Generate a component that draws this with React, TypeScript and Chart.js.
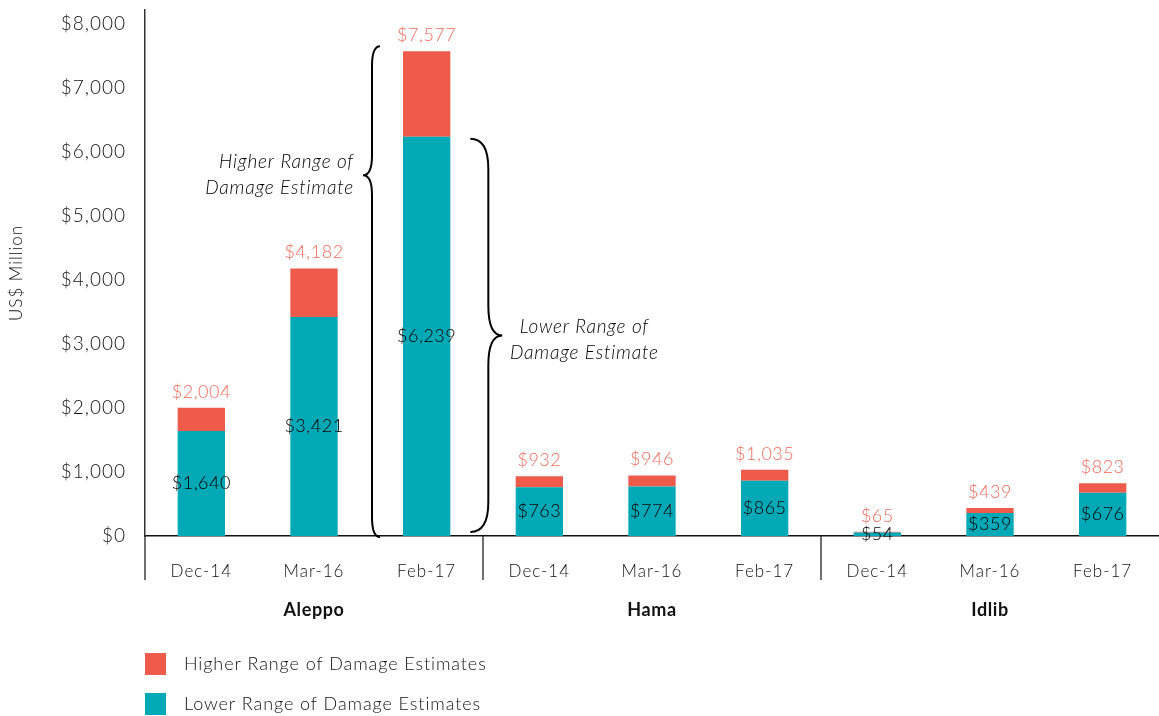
import React, { useEffect, useRef } from 'react';
import { Chart, registerables } from 'chart.js';
Chart.register(...registerables);

const categories = ['Dec-14', 'Mar-16', 'Feb-17', 'Dec-14', 'Mar-16', 'Feb-17', 'Dec-14', 'Mar-16', 'Feb-17'];
const groups = ['Aleppo', 'Hama', 'Idlib'];
const groupSizes = [3, 3, 3];
const lowerValues = [1640, 3421, 6239, 763, 774, 865, 54, 359, 676];
const totalValues = [2004, 4182, 7577, 932, 946, 1035, 65, 439, 823];
const higherValues = totalValues.map((t, i) => t - lowerValues[i]);
const yTickValues = [0, 1000, 2000, 3000, 4000, 5000, 6000, 7000, 8000];
const seriesNames = ['Lower Range of Damage Estimates', 'Higher Range of Damage Estimates'];
const annotationHigher = ['Higher Range of', 'Damage Estimate'];
const annotationLower = ['Lower Range of', 'Damage Estimate'];
const bracedIndex = 2;

const TEAL = '#00A9B5';
const RED = '#EE5B4B';
const RED_TEXT = '#F26A5A';
const FONT = 'Lato, "Open Sans", sans-serif';

const fmt = (v: number) => '$' + v.toLocaleString('en-US');

function brace(ctx: CanvasRenderingContext2D, x: number, y1: number, y2: number, ym: number, d: number, e: number, t: number, r: number) {
  // d = -1: "{" tip pointing left; d = +1: "}" tip pointing right
  ctx.beginPath();
  ctx.moveTo(x - d * e, y1);
  ctx.quadraticCurveTo(x, y1, x, y1 + r);
  ctx.lineTo(x, ym - r);
  ctx.quadraticCurveTo(x, ym, x + d * t, ym);
  ctx.quadraticCurveTo(x, ym, x, ym + r);
  ctx.lineTo(x, y2 - r);
  ctx.quadraticCurveTo(x, y2, x - d * e, y2);
  ctx.stroke();
}

const decorations = {
  id: 'decorations',
  beforeDraw(chart: any) {
    (chart.ctx as any).letterSpacing = '1px';
  },
  afterDatasetsDraw(chart: any) {
    const ctx: any = chart.ctx;
    const lowerMeta = chart.getDatasetMeta(0);
    const higherMeta = chart.getDatasetMeta(1);
    ctx.save();
    ctx.letterSpacing = '0.5px';
    ctx.textAlign = 'center';
    ctx.textBaseline = 'middle';
    lowerMeta.data.forEach((bar: any, i: number) => {
      ctx.font = `300 18px ${FONT}`;
      ctx.fillStyle = '#000';
      ctx.fillText(fmt(lowerValues[i]), bar.x, (bar.y + bar.base) / 2);
      const top = higherMeta.data[i];
      ctx.fillStyle = RED_TEXT;
      ctx.fillText(fmt(totalValues[i]), top.x, top.y - 16);
    });
    ctx.restore();
  },
  afterDraw(chart: any) {
    const ctx: any = chart.ctx;
    const xs = chart.scales.x;
    const ys = chart.scales.y;
    const area = chart.chartArea;
    const lowY = area.bottom + 44;
    ctx.save();
    ctx.strokeStyle = '#222';
    ctx.lineWidth = 1.3;
    // y axis extension and group separators
    ctx.beginPath();
    ctx.moveTo(area.left, area.bottom);
    ctx.lineTo(area.left, lowY);
    let idx = 0;
    groupSizes.forEach((n, g) => {
      idx += n;
      if (g < groupSizes.length - 1) {
        const sx = (xs.getPixelForValue(idx - 1) + xs.getPixelForValue(idx)) / 2;
        ctx.moveTo(sx, area.bottom);
        ctx.lineTo(sx, lowY);
      }
    });
    ctx.stroke();
    // group labels
    ctx.fillStyle = '#111';
    ctx.letterSpacing = '0.6px';
    ctx.font = `bold 18px ${FONT}`;
    ctx.textAlign = 'center';
    ctx.textBaseline = 'middle';
    let start = 0;
    groupSizes.forEach((n, g) => {
      const cx = (xs.getPixelForValue(start) + xs.getPixelForValue(start + n - 1)) / 2;
      ctx.fillText(groups[g], cx, area.bottom + 74);
      start += n;
    });
    // legend
    const legendItems = [
      { label: seriesNames[1], color: RED },
      { label: seriesNames[0], color: TEAL },
    ];
    ctx.font = `300 18px ${FONT}`;
    ctx.letterSpacing = '0.9px';
    ctx.textAlign = 'left';
    legendItems.forEach((it, k) => {
      const cy = area.bottom + 128 + k * 40;
      ctx.fillStyle = it.color;
      ctx.fillRect(area.left, cy - 11, 21, 22);
      ctx.fillStyle = '#111';
      ctx.fillText(it.label, area.left + 39, cy);
    });
    // braces
    const bars = chart.getDatasetMeta(1).data;
    const lowBars = chart.getDatasetMeta(0).data;
    const b = bars[bracedIndex];
    const lb = lowBars[bracedIndex];
    const half = b.width / 2;
    ctx.strokeStyle = '#000';
    ctx.lineWidth = 2;
    const lx = b.x - half - 31;
    const ly1 = b.y - 5, ly2 = ys.getPixelForValue(0) + 1;
    const lym = ly1 + (ly2 - ly1) * 0.263;
    brace(ctx, lx, ly1, ly2, lym, -1, 8, 9, 20);
    const rx = b.x + half + 38;
    const ry1 = lb.y + 2, ry2 = ys.getPixelForValue(0) - 4;
    const rym = ry1 + (ry2 - ry1) * 0.5;
    brace(ctx, rx, ry1, ry2, rym, 1, 18, 14, 30);
    // annotation text
    ctx.fillStyle = '#000';
    ctx.font = `italic 300 19px ${FONT}`;
    ctx.letterSpacing = '0.8px';
    ctx.textAlign = 'right';
    ctx.fillText(annotationHigher[0], lx - 18, lym - 13);
    ctx.fillText(annotationHigher[1], lx - 18, lym + 13);
    ctx.textAlign = 'center';
    ctx.fillText(annotationLower[0], rx + 96, rym - 9);
    ctx.fillText(annotationLower[1], rx + 96, rym + 17);
    ctx.restore();
  },
};

export default function App() {
  const ref = useRef<HTMLCanvasElement>(null);
  useEffect(() => {
    document.body.style.margin = '0';
    const chart = new Chart(ref.current!, {
      type: 'bar',
      data: {
        labels: categories,
        datasets: [
          {
            label: seriesNames[0],
            data: lowerValues,
            backgroundColor: TEAL,
            barPercentage: 0.42,
            categoryPercentage: 1,
          },
          {
            label: seriesNames[1],
            data: higherValues,
            backgroundColor: RED,
            barPercentage: 0.42,
            categoryPercentage: 1,
          },
        ],
      },
      options: {
        animation: false,
        responsive: false,
        maintainAspectRatio: false,
        layout: { padding: { top: 10, right: 0, left: 0, bottom: 0 } },
        plugins: { legend: { display: false }, tooltip: { enabled: false } },
        scales: {
          x: {
            stacked: true,
            grid: { display: false, drawTicks: false },
            border: { display: true, color: '#111', width: 1.5 },
            ticks: { color: '#111', font: { family: FONT, size: 17, weight: '300' }, padding: 25 },
            afterFit: (axis: any) => { axis.height = 180; axis.paddingLeft = 0; axis.paddingRight = 0; },
          },
          y: {
            stacked: true,
            min: 0,
            max: 8220,
            grid: { display: false, drawTicks: false },
            border: { display: true, color: '#333', width: 1.5 },
            afterBuildTicks: (axis: any) => {
              axis.ticks = yTickValues.map((v) => ({ value: v }));
            },
            ticks: {
              color: '#111',
              font: { family: FONT, size: 19, weight: '300' },
              padding: 19,
              callback: (v: any) => fmt(Number(v)),
            },
            title: {
              display: true,
              text: 'US$ Million',
              color: '#111',
              font: { family: FONT, size: 17, weight: '300' },
              padding: { top: 6, bottom: 4 },
            },
            afterFit: (axis: any) => { axis.width = 145; axis.paddingTop = 0; axis.paddingBottom = 0; },
          },
        },
      },
      plugins: [decorations],
    });
    return () => chart.destroy();
  }, []);
  return (
    <div style={{ width: 1159, height: 716 }}>
      <canvas ref={ref} width={1159} height={716} style={{ width: 1159, height: 716, display: 'block' }} />
    </div>
  );
}
